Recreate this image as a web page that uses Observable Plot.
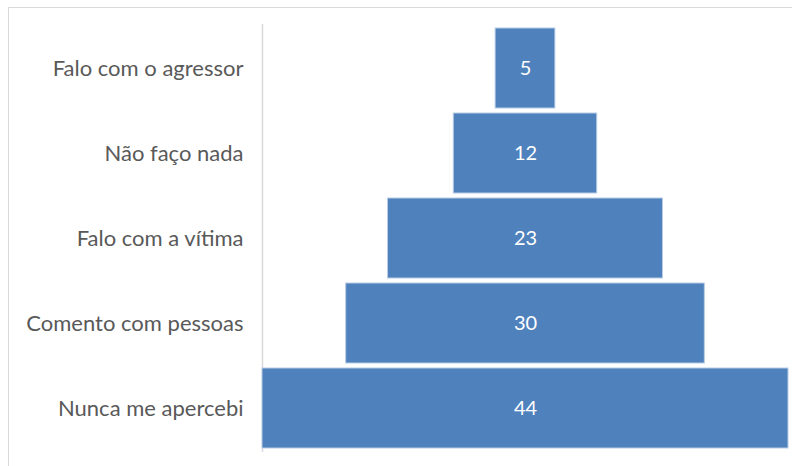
<!DOCTYPE html>
<html>
<head>
<meta charset="utf-8">
<script src="https://cdn.jsdelivr.net/npm/d3@7"></script>
<script src="https://cdn.jsdelivr.net/npm/@observablehq/plot@0.6"></script>
<style>
  html, body { margin: 0; padding: 0; background: #fff; }
  #wrap { position: relative; width: 792px; height: 466px; overflow: hidden; }
  #frame { position: absolute; left: 8px; top: 7px; width: 800px; height: 480px;
           border-top: 1.5px solid #d9d9d9; border-left: 1.5px solid #d9d9d9; }
  #chart { position: absolute; left: 0; top: 0; }
</style>
</head>
<body>
<div id="wrap">
  <div id="frame"></div>
  <div id="chart"></div>
</div>
<script>
const categories = ["Falo com o agressor", "Não faço nada", "Falo com a vítima", "Comento com pessoas", "Nunca me apercebi"];
const values = [5, 12, 23, 30, 44];

const data = categories.map((c, i) => ({category: c, value: values[i]}));
const maxV = d3.max(values);

const chart = Plot.plot({
  width: 792,
  height: 466,
  marginLeft: 262,
  marginRight: 4,
  marginTop: 24,
  marginBottom: 14,
  style: {fontFamily: "Lato, 'Open Sans', sans-serif", background: "transparent"},
  x: {domain: [-maxV / 2, maxV / 2], axis: null},
  y: {domain: categories, paddingInner: 0.064, paddingOuter: 0.035, label: null},
  marks: [
    Plot.axisY({tickSize: 0, tickPadding: 19, fontSize: 22, fill: "#595959", label: null}),
    Plot.ruleX([-maxV / 2], {stroke: "#d9d9d9", strokeWidth: 1.5}),
    Plot.barX(data, {
      y: "category",
      x1: d => -d.value / 2,
      x2: d => d.value / 2,
      fill: "#4f81bd",
      stroke: "#b9cde5",
      strokeWidth: 1
    }),
    Plot.text(data, {
      y: "category",
      x: 0,
      text: d => String(d.value),
      fill: "white",
      fontSize: 20
    })
  ]
});
document.getElementById("chart").appendChild(chart);
</script>
</body>
</html>
